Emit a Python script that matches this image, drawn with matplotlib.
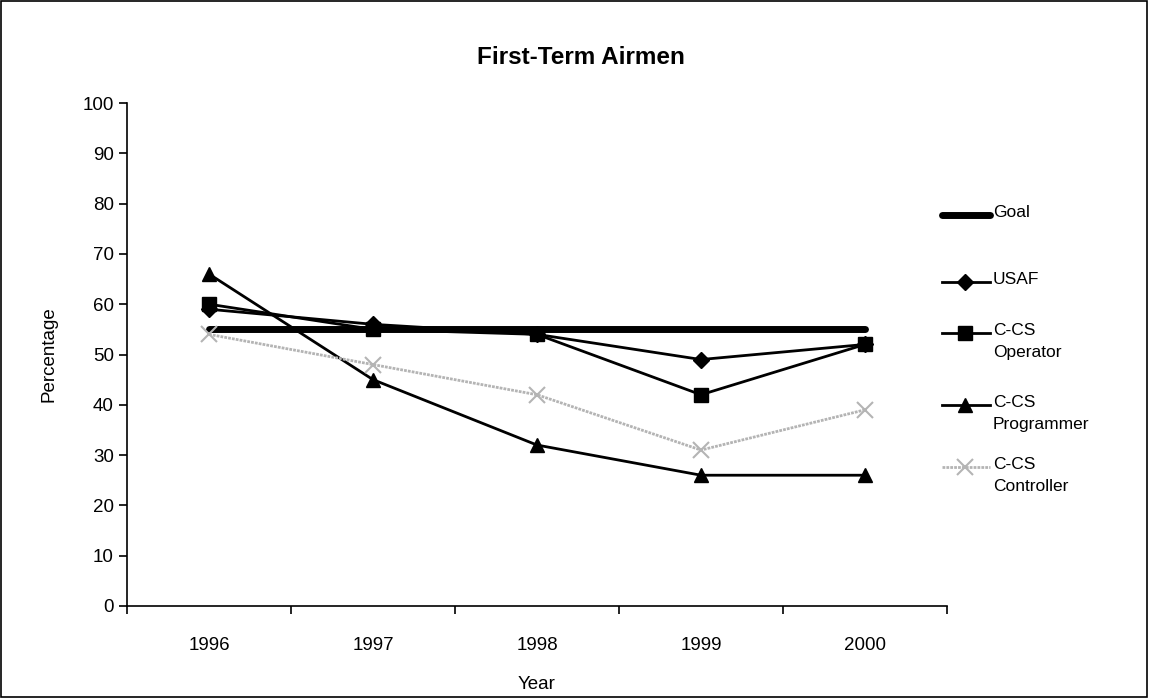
import matplotlib.pyplot as plt
from matplotlib.lines import Line2D
from matplotlib.patches import Rectangle

plt.rcParams["font.family"] = ["Liberation Sans", "DejaVu Sans"]

# Data
years = ["1996", "1997", "1998", "1999", "2000"]
goal = [55, 55, 55, 55, 55]
usaf = [59, 56, 54, 49, 52]
operator = [60, 55, 54, 42, 52]
programmer = [66, 45, 32, 26, 26]
controller = [54, 48, 42, 31, 39]

W, H = 1149, 698
fig = plt.figure(figsize=(W / 100, H / 100), dpi=100)
ax = fig.add_axes([127 / W, 1 - 606 / H, 820 / W, 503 / H])

x = range(len(years))
series = [
    ("Goal", goal, dict(color="black", lw=5, solid_capstyle="round")),
    ("USAF", usaf, dict(color="black", lw=2, marker="D", ms=8)),
    ("C-CS\nOperator", operator, dict(color="black", lw=2, marker="s", ms=10)),
    ("C-CS\nProgrammer", programmer, dict(color="black", lw=2, marker="^", ms=10)),
    ("C-CS\nController", controller,
     dict(color="#b4b4b4", lw=2, ls=(0, (1, 0.4)), marker="x", ms=11, mew=1.5)),
]
for name, vals, style in series:
    ax.plot(x, vals, **style)

ax.set_xlim(-0.5, len(years) - 0.5)
ax.set_ylim(0, 100)
ax.set_yticks(range(0, 101, 10))
ax.set_xticks(x)
ax.set_xticklabels(years)
ax.set_xticks([i - 0.5 for i in range(len(years) + 1)], minor=True)
ax.tick_params(axis="x", which="major", length=0, pad=22, labelsize=13.5)
ax.tick_params(axis="x", which="minor", length=6, width=1.2, direction="out")
ax.tick_params(axis="y", length=6, width=1.2, direction="out", labelsize=13.5)
for s in ["top", "right"]:
    ax.spines[s].set_visible(False)
for s in ["left", "bottom"]:
    ax.spines[s].set_linewidth(1.2)

fig.text(581 / W, 1 - 58 / H, "First-Term Airmen", fontsize=17.5, fontweight="bold",
         ha="center", va="center")
ax.set_ylabel("Percentage", fontsize=13.5, labelpad=18)
ax.set_xlabel("Year", fontsize=13.5, labelpad=16)

# manual legend on the right
leg_y = [215, 282, 333, 405, 467]
for (name, vals, style), py in zip(series, leg_y):
    yf = 1 - py / H
    st = dict(style)
    line_kw = {k: v for k, v in st.items() if k not in ("marker", "ms", "mew")}
    fig.add_artist(Line2D([942 / W, 990 / W], [yf, yf], transform=fig.transFigure, **line_kw))
    if "marker" in st:
        fig.add_artist(Line2D([965 / W], [yf], transform=fig.transFigure, ls="none",
                              color=st["color"], marker=st["marker"], ms=st["ms"],
                              mew=st.get("mew", 1)))
    fig.text(993 / W, yf + 0.014, name, fontsize=12.5, va="top", ha="left",
             linespacing=1.6)

fig.add_artist(Rectangle((0.0005, 0.0008), 0.998, 0.998, transform=fig.transFigure,
                         fill=False, ec="black", lw=1.2))

fig.savefig("out.png", dpi=100)
